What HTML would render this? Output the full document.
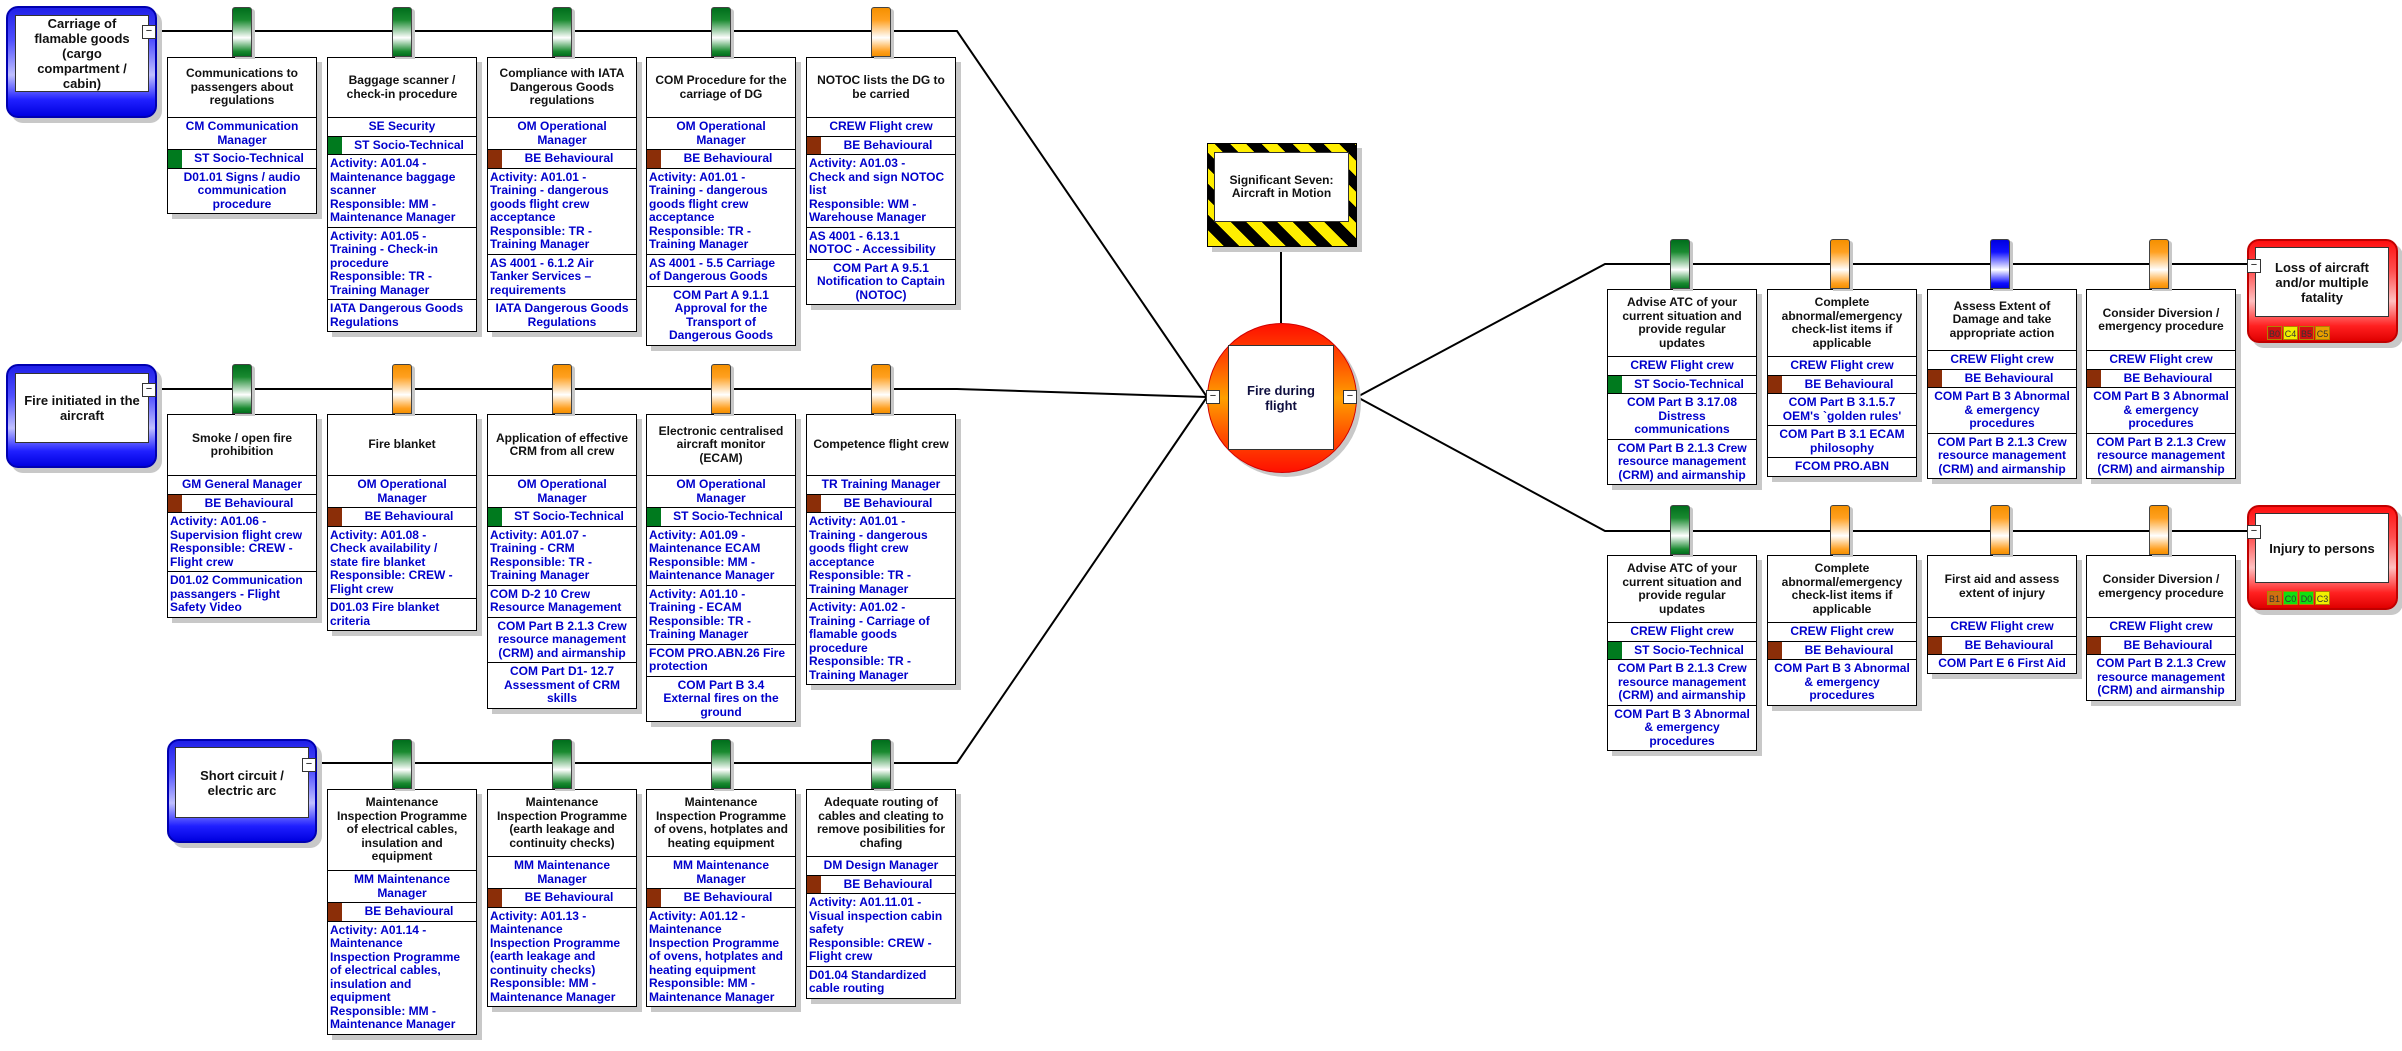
<!DOCTYPE html>
<html><head><meta charset="utf-8">
<style>
*{box-sizing:border-box;margin:0;padding:0}
body{width:2402px;height:1051px;background:#fff;position:relative;overflow:hidden;font-family:"Liberation Sans",sans-serif}
svg.ln{position:absolute;left:0;top:0}
.b{position:absolute;width:150px;border:1px solid #000;background:#fff;box-shadow:5px 5px 0 #c8c8c8;font:bold 12px/13.5px "Liberation Sans",sans-serif;white-space:nowrap;z-index:2}
.t{display:flex;align-items:center;justify-content:center;text-align:center;color:#111;height:59px}
.r{border-top:1px solid #000;padding:2px 2px;color:#0000cc;text-align:center;position:relative;overflow:hidden}
.l{text-align:left}
.c{padding-left:16px}
.c i{position:absolute;left:0;top:0;bottom:0;width:14px}
.g i{background:#007a1e}.br i{background:#8b2e08}
.tab{position:absolute;width:20px;border:1px solid #444;border-radius:3px 3px 0 0;box-shadow:3px 2px 0 #c8c8c8;z-index:3}
.tg{background:linear-gradient(#006e1c 0%,#1a8a30 25%,#fff 62%,#1a8a30 90%,#006e1c 100%)}
.to{background:linear-gradient(#f59000 0%,#ffa020 25%,#fff 62%,#ffa020 90%,#f59000 100%)}
.tb{background:linear-gradient(#0000e0 0%,#1010ff 25%,#fff 62%,#1010ff 90%,#0000e0 100%)}
.th{position:absolute;border:2px solid #0000b0;border-radius:12px;background:linear-gradient(#2020e8 0%,#5050ff 30%,#c0c0ff 62%,#2020ff 85%,#0000e0 100%);box-shadow:5px 5px 0 #c8c8c8;z-index:2}
.cq{position:absolute;border:2px solid #c00000;border-radius:12px;background:linear-gradient(#ff1010 0%,#ff5050 30%,#ffc0c0 60%,#ff2020 85%,#e00000 100%);box-shadow:5px 5px 0 #c8c8c8;z-index:2}
.in{position:absolute;background:#fff;border:1px solid #333;display:flex;align-items:center;justify-content:center;text-align:center;font:bold 13px/15px "Liberation Sans",sans-serif;color:#111}
.btn{position:absolute;width:14px;height:14px;background:#fff;border:1px solid #333;font:11px/11px "Liberation Sans",sans-serif;text-align:center;z-index:4}
.bd{position:absolute;width:15px;height:14px;font:9px/14px "Liberation Sans",sans-serif;text-align:center;color:#333;border:1px solid #b08000}
</style></head><body>
<svg class="ln" width="2402" height="1051">
<g stroke="#000" stroke-width="2" fill="none">
<polyline points="156,31 957,31 1207,397"/>
<polyline points="156,389 957,389 1207,397"/>
<polyline points="316,763 957,763 1207,397"/>
<line x1="1281" y1="247" x2="1281" y2="323"/>
<polyline points="1357,397 1605,264 2248,264"/>
<polyline points="1357,397 1605,531 2248,531"/>
</g></svg>

<div class="th" style="left:6px;top:6px;width:151px;height:112px"><div class="in" style="left:7px;top:7px;width:134px;height:77px">Carriage of<br>flamable goods<br>(cargo<br>compartment /<br>cabin)</div></div>
<div class="btn" style="left:142px;top:25px">−</div>
<div class="th" style="left:6px;top:364px;width:151px;height:104px"><div class="in" style="left:7px;top:7px;width:134px;height:70px">Fire initiated in the<br>aircraft</div></div>
<div class="btn" style="left:142px;top:383px">−</div>
<div class="th" style="left:167px;top:739px;width:150px;height:104px"><div class="in" style="left:6px;top:6px;width:134px;height:71px">Short circuit /<br>electric arc</div></div>
<div class="btn" style="left:302px;top:758px">−</div>

<div style="position:absolute;left:1207px;top:143px;width:150px;height:104px;border:1px solid #000;background:repeating-linear-gradient(45deg,#ffee00 0 11px,#000 11px 22px);box-shadow:5px 5px 0 #c8c8c8;z-index:2"><div class="in" style="left:6px;top:8px;width:135px;height:70px;font-size:12px;line-height:13px">Significant Seven:<br>Aircraft in Motion</div></div>
<div style="position:absolute;left:1207px;top:323px;width:150px;height:150px;border-radius:50%;border:1px solid #d00000;background:linear-gradient(#ff1000 0%,#ff5000 25%,#ffa000 50%,#ff5000 75%,#ff1000 100%);box-shadow:4px 4px 0 #c8c8c8;z-index:2"></div>
<div class="in" style="left:1228px;top:345px;width:106px;height:105px;z-index:3;color:#101040">Fire during<br>flight</div>
<div class="btn" style="left:1206px;top:390px">−</div>
<div class="btn" style="left:1343px;top:390px">−</div>

<div class="cq" style="left:2247px;top:239px;width:151px;height:104px"><div class="in" style="left:6px;top:6px;width:134px;height:70px">Loss of aircraft<br>and/or multiple<br>fatality</div>
<div class="bd" style="left:18px;top:85px;background:#d01010">B0</div><div class="bd" style="left:34px;top:85px;background:#f0f000">C4</div><div class="bd" style="left:50px;top:85px;background:#d01010">B5</div><div class="bd" style="left:66px;top:85px;background:#e8a000">C5</div></div>
<div class="btn" style="left:2247px;top:259px">−</div>
<div class="cq" style="left:2247px;top:505px;width:151px;height:105px"><div class="in" style="left:6px;top:6px;width:134px;height:70px">Injury to persons</div>
<div class="bd" style="left:18px;top:84px;background:#d07010">B1</div><div class="bd" style="left:34px;top:84px;background:#10e010">C0</div><div class="bd" style="left:50px;top:84px;background:#10e010">D0</div><div class="bd" style="left:66px;top:84px;background:#f0f000">C3</div></div>
<div class="btn" style="left:2247px;top:525px">−</div>

<div class="tab tg" style="left:232px;top:7px;height:50px"></div>
<div class="tab tg" style="left:392px;top:7px;height:50px"></div>
<div class="tab tg" style="left:552px;top:7px;height:50px"></div>
<div class="tab tg" style="left:711px;top:7px;height:50px"></div>
<div class="tab to" style="left:871px;top:7px;height:50px"></div>
<div class="tab tg" style="left:232px;top:364px;height:50px"></div>
<div class="tab to" style="left:392px;top:364px;height:50px"></div>
<div class="tab to" style="left:552px;top:364px;height:50px"></div>
<div class="tab to" style="left:711px;top:364px;height:50px"></div>
<div class="tab to" style="left:871px;top:364px;height:50px"></div>
<div class="tab tg" style="left:392px;top:739px;height:50px"></div>
<div class="tab tg" style="left:552px;top:739px;height:50px"></div>
<div class="tab tg" style="left:711px;top:739px;height:50px"></div>
<div class="tab tg" style="left:871px;top:739px;height:50px"></div>
<div class="tab tg" style="left:1670px;top:239px;height:50px"></div>
<div class="tab to" style="left:1830px;top:239px;height:50px"></div>
<div class="tab tb" style="left:1990px;top:239px;height:50px"></div>
<div class="tab to" style="left:2149px;top:239px;height:50px"></div>
<div class="tab tg" style="left:1670px;top:505px;height:50px"></div>
<div class="tab to" style="left:1830px;top:505px;height:50px"></div>
<div class="tab to" style="left:1990px;top:505px;height:50px"></div>
<div class="tab to" style="left:2149px;top:505px;height:50px"></div>

<div class="b" style="left:167px;top:57px"><div class="t">Communications to<br>passengers about<br>regulations</div>
<div class="r">CM Communication<br>Manager</div><div class="r c g"><i></i>ST Socio-Technical</div>
<div class="r">D01.01 Signs / audio<br>communication<br>procedure</div></div>

<div class="b" style="left:327px;top:57px"><div class="t">Baggage scanner /<br>check-in procedure</div>
<div class="r">SE Security</div><div class="r c g"><i></i>ST Socio-Technical</div>
<div class="r l">Activity: A01.04 -<br>Maintenance baggage<br>scanner<br>Responsible: MM -<br>Maintenance Manager</div>
<div class="r l">Activity: A01.05 -<br>Training - Check-in<br>procedure<br>Responsible: TR -<br>Training Manager</div>
<div class="r l">IATA Dangerous Goods<br>Regulations</div></div>

<div class="b" style="left:487px;top:57px"><div class="t">Compliance with IATA<br>Dangerous Goods<br>regulations</div>
<div class="r">OM Operational<br>Manager</div><div class="r c br"><i></i>BE Behavioural</div>
<div class="r l">Activity: A01.01 -<br>Training - dangerous<br>goods flight crew<br>acceptance<br>Responsible: TR -<br>Training Manager</div>
<div class="r l">AS 4001 - 6.1.2 Air<br>Tanker Services –<br>requirements</div>
<div class="r">IATA Dangerous Goods<br>Regulations</div></div>

<div class="b" style="left:646px;top:57px"><div class="t">COM Procedure for the<br>carriage of DG</div>
<div class="r">OM Operational<br>Manager</div><div class="r c br"><i></i>BE Behavioural</div>
<div class="r l">Activity: A01.01 -<br>Training - dangerous<br>goods flight crew<br>acceptance<br>Responsible: TR -<br>Training Manager</div>
<div class="r l">AS 4001 - 5.5 Carriage<br>of Dangerous Goods</div>
<div class="r">COM Part A 9.1.1<br>Approval for the<br>Transport of<br>Dangerous Goods</div></div>

<div class="b" style="left:806px;top:57px"><div class="t">NOTOC lists the DG to<br>be carried</div>
<div class="r">CREW Flight crew</div><div class="r c br"><i></i>BE Behavioural</div>
<div class="r l">Activity: A01.03 -<br>Check and sign NOTOC<br>list<br>Responsible: WM -<br>Warehouse Manager</div>
<div class="r l">AS 4001 - 6.13.1<br>NOTOC - Accessibility</div>
<div class="r">COM Part A 9.5.1<br>Notification to Captain<br>(NOTOC)</div></div>

<div class="b" style="left:167px;top:414px"><div class="t" style="height:60px">Smoke / open fire<br>prohibition</div>
<div class="r">GM General Manager</div><div class="r c br"><i></i>BE Behavioural</div>
<div class="r l">Activity: A01.06 -<br>Supervision flight crew<br>Responsible: CREW -<br>Flight crew</div>
<div class="r l">D01.02 Communication<br>passangers - Flight<br>Safety Video</div></div>

<div class="b" style="left:327px;top:414px"><div class="t" style="height:60px">Fire blanket</div>
<div class="r">OM Operational<br>Manager</div><div class="r c br"><i></i>BE Behavioural</div>
<div class="r l">Activity: A01.08 -<br>Check availability /<br>state fire blanket<br>Responsible: CREW -<br>Flight crew</div>
<div class="r l">D01.03 Fire blanket<br>criteria</div></div>

<div class="b" style="left:487px;top:414px"><div class="t" style="height:60px">Application of effective<br>CRM from all crew</div>
<div class="r">OM Operational<br>Manager</div><div class="r c g"><i></i>ST Socio-Technical</div>
<div class="r l">Activity: A01.07 -<br>Training - CRM<br>Responsible: TR -<br>Training Manager</div>
<div class="r l">COM D-2 10 Crew<br>Resource Management</div>
<div class="r">COM Part B 2.1.3 Crew<br>resource management<br>(CRM) and airmanship</div>
<div class="r">COM Part D1- 12.7<br>Assessment of CRM<br>skills</div></div>

<div class="b" style="left:646px;top:414px"><div class="t" style="height:60px">Electronic centralised<br>aircraft monitor<br>(ECAM)</div>
<div class="r">OM Operational<br>Manager</div><div class="r c g"><i></i>ST Socio-Technical</div>
<div class="r l">Activity: A01.09 -<br>Maintenance ECAM<br>Responsible: MM -<br>Maintenance Manager</div>
<div class="r l">Activity: A01.10 -<br>Training - ECAM<br>Responsible: TR -<br>Training Manager</div>
<div class="r l">FCOM PRO.ABN.26 Fire<br>protection</div>
<div class="r">COM Part B 3.4<br>External fires on the<br>ground</div></div>

<div class="b" style="left:806px;top:414px"><div class="t" style="height:60px">Competence flight crew</div>
<div class="r">TR Training Manager</div><div class="r c br"><i></i>BE Behavioural</div>
<div class="r l">Activity: A01.01 -<br>Training - dangerous<br>goods flight crew<br>acceptance<br>Responsible: TR -<br>Training Manager</div>
<div class="r l">Activity: A01.02 -<br>Training - Carriage of<br>flamable goods<br>procedure<br>Responsible: TR -<br>Training Manager</div></div>

<div class="b" style="left:327px;top:789px"><div class="t" style="height:80px">Maintenance<br>Inspection Programme<br>of electrical cables,<br>insulation and<br>equipment</div>
<div class="r">MM Maintenance<br>Manager</div><div class="r c br"><i></i>BE Behavioural</div>
<div class="r l">Activity: A01.14 -<br>Maintenance<br>Inspection Programme<br>of electrical cables,<br>insulation and<br>equipment<br>Responsible: MM -<br>Maintenance Manager</div></div>

<div class="b" style="left:487px;top:789px"><div class="t" style="height:66px">Maintenance<br>Inspection Programme<br>(earth leakage and<br>continuity checks)</div>
<div class="r">MM Maintenance<br>Manager</div><div class="r c br"><i></i>BE Behavioural</div>
<div class="r l">Activity: A01.13 -<br>Maintenance<br>Inspection Programme<br>(earth leakage and<br>continuity checks)<br>Responsible: MM -<br>Maintenance Manager</div></div>

<div class="b" style="left:646px;top:789px"><div class="t" style="height:66px">Maintenance<br>Inspection Programme<br>of ovens, hotplates and<br>heating equipment</div>
<div class="r">MM Maintenance<br>Manager</div><div class="r c br"><i></i>BE Behavioural</div>
<div class="r l">Activity: A01.12 -<br>Maintenance<br>Inspection Programme<br>of ovens, hotplates and<br>heating equipment<br>Responsible: MM -<br>Maintenance Manager</div></div>

<div class="b" style="left:806px;top:789px"><div class="t" style="height:66px">Adequate routing of<br>cables and cleating to<br>remove posibilities for<br>chafing</div>
<div class="r">DM Design Manager</div><div class="r c br"><i></i>BE Behavioural</div>
<div class="r l">Activity: A01.11.01 -<br>Visual inspection cabin<br>safety<br>Responsible: CREW -<br>Flight crew</div>
<div class="r l">D01.04 Standardized<br>cable routing</div></div>

<div class="b" style="left:1607px;top:289px"><div class="t" style="height:66px">Advise ATC of your<br>current situation and<br>provide regular<br>updates</div>
<div class="r">CREW Flight crew</div><div class="r c g"><i></i>ST Socio-Technical</div>
<div class="r">COM Part B 3.17.08<br>Distress<br>communications</div>
<div class="r">COM Part B 2.1.3 Crew<br>resource management<br>(CRM) and airmanship</div></div>

<div class="b" style="left:1767px;top:289px"><div class="t" style="height:66px">Complete<br>abnormal/emergency<br>check-list items if<br>applicable</div>
<div class="r">CREW Flight crew</div><div class="r c br"><i></i>BE Behavioural</div>
<div class="r">COM Part B 3.1.5.7<br>OEM's `golden rules'</div>
<div class="r">COM Part B 3.1 ECAM<br>philosophy</div>
<div class="r">FCOM PRO.ABN</div></div>

<div class="b" style="left:1927px;top:289px"><div class="t" style="height:60px">Assess Extent of<br>Damage and take<br>appropriate action</div>
<div class="r">CREW Flight crew</div><div class="r c br"><i></i>BE Behavioural</div>
<div class="r">COM Part B 3 Abnormal<br>&amp; emergency<br>procedures</div>
<div class="r">COM Part B 2.1.3 Crew<br>resource management<br>(CRM) and airmanship</div></div>

<div class="b" style="left:2086px;top:289px"><div class="t" style="height:60px">Consider Diversion /<br>emergency procedure</div>
<div class="r">CREW Flight crew</div><div class="r c br"><i></i>BE Behavioural</div>
<div class="r">COM Part B 3 Abnormal<br>&amp; emergency<br>procedures</div>
<div class="r">COM Part B 2.1.3 Crew<br>resource management<br>(CRM) and airmanship</div></div>

<div class="b" style="left:1607px;top:555px"><div class="t" style="height:66px">Advise ATC of your<br>current situation and<br>provide regular<br>updates</div>
<div class="r">CREW Flight crew</div><div class="r c g"><i></i>ST Socio-Technical</div>
<div class="r">COM Part B 2.1.3 Crew<br>resource management<br>(CRM) and airmanship</div>
<div class="r">COM Part B 3 Abnormal<br>&amp; emergency<br>procedures</div></div>

<div class="b" style="left:1767px;top:555px"><div class="t" style="height:66px">Complete<br>abnormal/emergency<br>check-list items if<br>applicable</div>
<div class="r">CREW Flight crew</div><div class="r c br"><i></i>BE Behavioural</div>
<div class="r">COM Part B 3 Abnormal<br>&amp; emergency<br>procedures</div></div>

<div class="b" style="left:1927px;top:555px"><div class="t" style="height:61px">First aid and assess<br>extent of injury</div>
<div class="r">CREW Flight crew</div><div class="r c br"><i></i>BE Behavioural</div>
<div class="r">COM Part E 6 First Aid</div></div>

<div class="b" style="left:2086px;top:555px"><div class="t" style="height:61px">Consider Diversion /<br>emergency procedure</div>
<div class="r">CREW Flight crew</div><div class="r c br"><i></i>BE Behavioural</div>
<div class="r">COM Part B 2.1.3 Crew<br>resource management<br>(CRM) and airmanship</div></div>

</body></html>
